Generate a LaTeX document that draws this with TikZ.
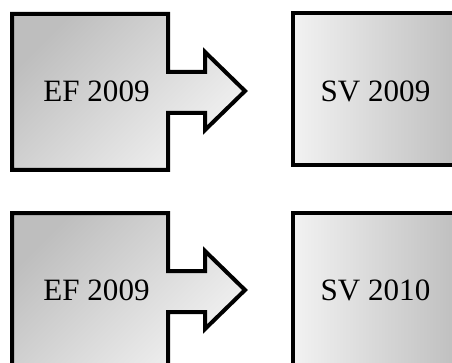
\documentclass[tikz,border=0pt]{standalone}
\usepackage{fontspec}
\setmainfont{Liberation Serif}
\definecolor{gdark}{RGB}{190,190,190}
\definecolor{glight}{RGB}{242,242,242}
\begin{document}
\begin{tikzpicture}[x=0.75pt,y=-0.75pt,
  outline/.style={draw=black,line width=3pt,line join=miter},
  srcshape/.style={outline,top color=gdark,bottom color=glight,shading angle=45},
  dstshape/.style={outline,left color=glight,right color=gdark},
  lbl/.style={font=\fontsize{23.3}{28}\selectfont,inner sep=0pt}]
\useasboundingbox (0,0) rectangle (452,363);
\clip (0,0) rectangle (452,363);
% top row
\draw[srcshape] (12,14) -- (168,14) -- (168,72) -- (205,72) -- (205,52) -- (245,91)
  -- (205,130) -- (205,113) -- (168,113) -- (168,170) -- (12,170) -- cycle;
\draw[dstshape] (293,13) rectangle (460,165);
\node[lbl] (ef1) at (96.5,91) {EF 2009};
\node[lbl] (sv1) at (375.5,91) {SV 2009};
% bottom row
\draw[srcshape] (12,213) -- (168,213) -- (168,271) -- (205,271) -- (205,251) -- (245,290)
  -- (205,329) -- (205,312) -- (168,312) -- (168,369) -- (12,369) -- cycle;
\draw[dstshape] (293,213) rectangle (460,369);
\node[lbl] (ef2) at (96.5,290) {EF 2009};
\node[lbl] (sv2) at (375.5,290) {SV 2010};
\end{tikzpicture}
\end{document}
